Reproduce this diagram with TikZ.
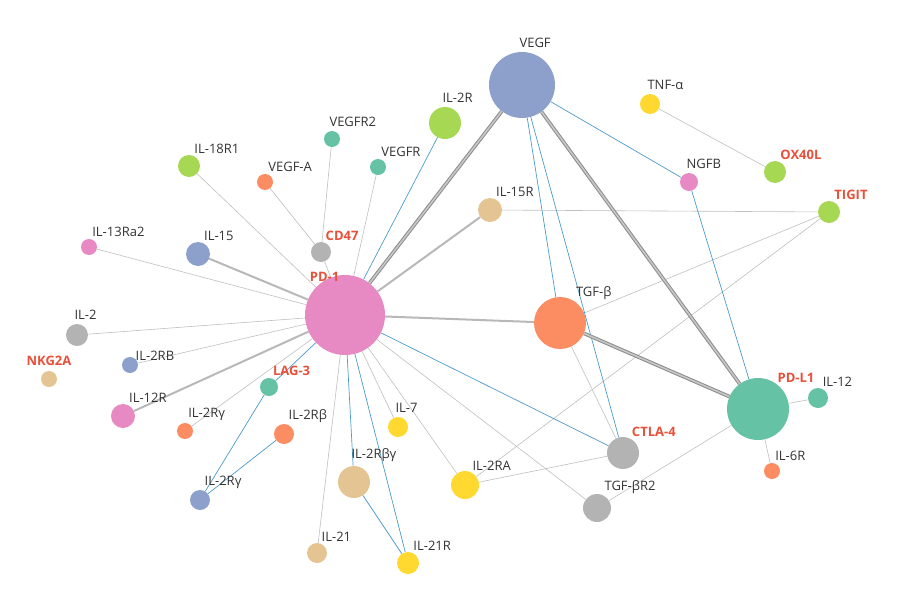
\documentclass[tikz,border=0pt]{standalone}
\usepackage{fontspec}
\setmainfont{Open Sans}
\definecolor{cblue}{HTML}{8DA0CB}
\definecolor{cgreen}{HTML}{A6D854}
\definecolor{cyel}{HTML}{FFD92F}
\definecolor{cpink}{HTML}{E78AC3}
\definecolor{ctan}{HTML}{E5C494}
\definecolor{cteal}{HTML}{66C2A5}
\definecolor{corange}{HTML}{FC8D62}
\definecolor{cgray}{HTML}{B3B3B3}
\definecolor{cred}{HTML}{E8503A}
\definecolor{cedge}{HTML}{4A9BC9}
\tikzset{
  gene/.style={circle, inner sep=0pt, fill=#1},
  lab/.style={font=\fontsize{13}{15}\selectfont, text=black!80},
  hot/.style={font=\bfseries\fontsize{13}{15}\selectfont, text=cred},
  ln/.style={draw=black!25, line width=0.6pt},
  lnw/.style={draw=black!28, line width=2pt},
  lnb/.style={draw=cedge, line width=0.7pt},
  lnt/.style={draw=black!45, double=black!22, double distance=1.6pt, line width=1pt}
}
\begin{document}
\begin{tikzpicture}[x=1pt,y=-1pt]
  \useasboundingbox (0,0) rectangle (900,600);
  % nodes
  \foreach \n/\x/\y/\r/\c in {
    vegf/522/85/33/cblue, iltwor/445/123/16/cgreen, tnfa/650/104/10/cyel,
    oxl/775/172/11/cgreen, ngfb/689/182/9/cpink, tigit/829/212/11/cgreen,
    ilfifr/490/210/12/ctan, vegfrtwo/332/139/8/cteal, vegfr/378/167/8/cteal,
    ileig/189/166/11/cgreen, vegfa/265/182/8/corange, cd/321/252/10/cgray,
    ilthi/89/247/8/cpink, ilfif/198/254/12/cblue, pdone/345/315/40/cpink,
    tgfb/560/323/26/corange, iltwo/77/335/11/cgray, iltworb/130/365/8/cblue,
    nkg/49/379/8/ctan, lag/269/387/9/cteal, iltwelr/123/416/12/cpink,
    ilgamA/185/431/8/corange, ilbeta/284/434/10/corange, ilsev/398/427/10/cyel,
    pdlone/758/409/31/cteal, iltwel/818/398/10/cteal, ctla/623/453/16/cgray,
    ilsixr/772/471/8/corange, ilra/465/485/14/cyel, ilbg/354/482/16/ctan,
    ilgamB/200/500/10/cblue, tgfr/597/508/14/cgray, iltwone/317/553/10/ctan,
    iltwoner/408/563/11/cyel}
    \node[gene=\c, minimum size=2*\r] (\n) at (\x,\y) {};
  % connectors
  \foreach \a/\b in {ileig/pdone, ilthi/pdone, iltwo/pdone, iltworb/pdone,
    ilgamA/pdone, ilsev/pdone, ilra/pdone, tgfr/pdone, iltwone/pdone,
    cd/pdone, vegfa/cd, vegfrtwo/cd, vegfr/pdone, tigit/ilfifr, tigit/tgfb,
    tigit/ilra, tnfa/oxl, pdlone/iltwel, pdlone/ilsixr, pdlone/tgfr,
    ctla/ilra, ctla/tgfb}
    \path[ln] (\a) -- (\b);
  \foreach \a/\b in {ilfif/pdone, iltwelr/pdone, ilfifr/pdone, pdone/tgfb}
    \path[lnw] (\a) -- (\b);
  \foreach \a/\b in {iltwor/pdone, vegf/tgfb, vegf/ctla, vegf/ngfb, ngfb/pdlone,
    pdone/ctla, lag/ilgamB, ilbeta/ilgamB, ilbg/iltwoner, pdone/iltwoner,
    pdone/ilbg, lag/pdone}
    \path[lnb] (\a) -- (\b);
  \foreach \a/\b in {vegf/pdone, vegf/pdlone, tgfb/pdlone}
    \path[lnt] (\a) -- (\b);
  % labels
  \foreach \n/\t/\d in {vegf/VEGF/north, iltwor/IL-2R/north, tnfa/TNF-α/north,
    ngfb/NGFB/north, ilfifr/IL-15R/north east, vegfrtwo/VEGFR2/north,
    vegfr/VEGFR/north east, ileig/IL-18R1/north east, vegfa/VEGF-A/north east,
    ilthi/IL-13Ra2/north east, ilfif/IL-15/north east, tgfb/TGF-β/north east,
    iltwo/IL-2/north, iltworb/IL-2RB/east, iltwelr/IL-12R/north east,
    ilgamA/IL-2Rγ/north east, ilbeta/IL-2Rβ/north east, ilsev/IL-7/north,
    iltwel/IL-12/north east, ilsixr/IL-6R/north east, ilra/IL-2RA/north east,
    ilbg/IL-2Rβγ/north, ilgamB/IL-2Rγ/north east, tgfr/TGF-βR2/north east,
    iltwone/IL-21/north east, iltwoner/IL-21R/north east}
    \node[lab, anchor=south west] (t\n) at ([xshift=-6pt,yshift=1pt]\n.\d) {\t};
  \foreach \n/\t in {oxl/OX40L, tigit/TIGIT, cd/CD47, pdlone/PD-L1, ctla/CTLA-4, lag/LAG-3}
    \node[hot, anchor=south west] (t\n) at ([xshift=-6pt,yshift=1pt]\n.north east) {\t};
  \node[hot, anchor=south] (tpdone) at ([xshift=8pt,yshift=2pt]pdone.north west) {PD-1};
  \node[hot, anchor=south] (tnkg) at ([yshift=2pt]nkg.north) {NKG2A};
\end{tikzpicture}
\end{document}
